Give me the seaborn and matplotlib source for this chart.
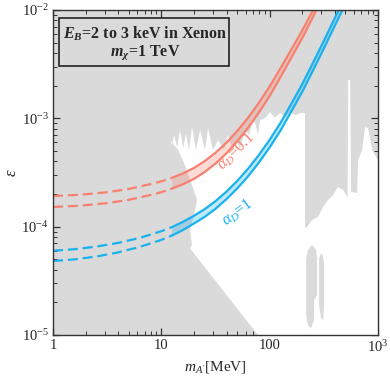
import numpy as np
import pandas as pd
import matplotlib
matplotlib.use("Agg")
import matplotlib.pyplot as plt
from matplotlib.patches import Rectangle
import seaborn as sns

# --- curve readings (m_A' in MeV, epsilon) ---
red_up_m = [1, 1.78, 3.16, 5.01, 7.94, 10, 12.6, 15.8, 20, 25.1, 31.6, 39.8, 50.1,
            63.1, 79.4, 100, 126, 158, 200, 251, 253]
red_up_e = [1.92e-4, 1.97e-4, 2.08e-4, 2.23e-4, 2.47e-4, 2.62e-4, 2.83e-4, 3.10e-4,
            3.48e-4, 4.02e-4, 4.81e-4, 5.94e-4, 7.62e-4, 1.01e-3, 1.39e-3, 1.97e-3,
            2.90e-3, 4.29e-3, 6.49e-3, 9.93e-3, 1.0e-2]
red_lo_m = [1, 1.78, 3.16, 5.01, 7.94, 10, 12.6, 15.8, 20, 25.1, 31.6, 39.8, 50.1,
            63.1, 79.4, 100, 126, 158, 200, 251, 270]
red_lo_e = [1.52e-4, 1.56e-4, 1.65e-4, 1.77e-4, 1.96e-4, 2.08e-4, 2.25e-4, 2.46e-4,
            2.76e-4, 3.19e-4, 3.82e-4, 4.74e-4, 6.13e-4, 8.16e-4, 1.13e-3, 1.61e-3,
            2.41e-3, 3.61e-3, 5.52e-3, 8.6e-3, 1.0e-2]
blue_up_m = [1, 1.58, 2.51, 3.98, 6.31, 10, 12.6, 15.8, 20, 25.1, 31.6, 39.8, 50.1,
             63.1, 79.4, 100, 126, 158, 200, 251, 316, 398, 434]
blue_up_e = [6.0e-5, 6.19e-5, 6.55e-5, 7.08e-5, 7.87e-5, 9.08e-5, 9.93e-5, 1.107e-4,
             1.26e-4, 1.45e-4, 1.72e-4, 2.10e-4, 2.64e-4, 3.42e-4, 4.58e-4, 6.34e-4,
             9.08e-4, 1.355e-3, 2.07e-3, 3.25e-3, 5.18e-3, 8.36e-3, 1.0e-2]
blue_lo_m = [1, 1.58, 2.51, 3.98, 6.31, 10, 12.6, 15.8, 20, 25.1, 31.6, 39.8, 50.1,
             63.1, 79.4, 100, 126, 158, 200, 251, 316, 398, 470]
blue_lo_e = [4.82e-5, 4.99e-5, 5.30e-5, 5.78e-5, 6.50e-5, 7.55e-5, 8.3e-5, 9.3e-5,
             1.07e-4, 1.23e-4, 1.46e-4, 1.79e-4, 2.25e-4, 2.91e-4, 3.90e-4, 5.40e-4,
             7.73e-4, 1.153e-3, 1.76e-3, 2.77e-3, 4.41e-3, 7.11e-3, 1.0e-2]
m_split = 12.6

# --- allowed (white) region outline ---
white_m = [78, 1000, 1000, 883, 811, 760, 713, 655, 641, 565, 552, 530, 524, 476,
           428, 385, 346, 311, 280, 246, 221, 212, 212, 191, 172, 154, 139, 125,
           112, 101, 90.7, 81.5, 78, 73.3, 68.8, 64.5, 59.3, 53.3, 49, 45, 41.3,
           37.9, 33.4, 30, 27, 25.3, 22.8, 20.9, 19.2, 18.0, 16.9, 15.9, 14.9,
           14.0, 13.1, 12.6, 12.0, 14.3, 16.5, 19.2, 21.4, 20.0, 18.4, 19.2, 18.4]
white_e = [1e-5, 1e-5, 4.1e-4, 5.1e-4, 8.1e-4, 8.3e-4, 5.1e-4, 4.1e-4, 2.04e-4,
           2.1e-4, 2.26e-3, 2.26e-3, 1.87e-4, 2.18e-4, 2.32e-4, 1.96e-4, 1.76e-4,
           1.52e-4, 1.23e-4, 1.15e-4, 9.9e-5, 9.7e-5, 1.12e-3, 1.12e-3, 1.07e-3,
           1.14e-3, 1.03e-3, 1.12e-3, 1.01e-3, 1.14e-3, 1.01e-3, 9.6e-4, 7.0e-4,
           9.2e-4, 9.0e-4, 7.0e-4, 7.8e-4, 5.3e-4, 6.3e-4, 5.1e-4, 7.0e-4, 5.1e-4,
           6.3e-4, 5.1e-4, 8.1e-4, 5.1e-4, 7.8e-4, 5.1e-4, 8.3e-4, 5.1e-4, 7.3e-4,
           5.3e-4, 7.8e-4, 5.4e-4, 7.0e-4, 5.7e-4, 6.3e-4, 5.1e-4, 3.7e-4, 2.42e-4,
           1.76e-4, 1.28e-4, 9.3e-5, 6.8e-5, 6.3e-5]

# excluded islands inside the allowed region
blob1_m = [226, 246, 268, 274, 274, 257, 257, 241, 226, 217, 217]
blob1_e = [6.1e-5, 6.8e-5, 6.1e-5, 5.1e-5, 2.33e-5, 2.1e-5, 1.37e-5, 1.16e-5,
           1.23e-5, 1.53e-5, 5.1e-5]
blob2_m = [286, 298, 311, 318, 318, 311, 298, 286]
blob2_e = [5.1e-5, 5.7e-5, 5.36e-5, 4.4e-5, 1.89e-5, 1.37e-5, 1.43e-5, 1.89e-5]

red = "#f8806f"
blue = "#19b2ef"
gray = "#dadada"

sns.set_theme(style="ticks")
plt.rcParams["font.family"] = ["Liberation Serif", "DejaVu Serif"]
plt.rcParams["mathtext.fontset"] = "custom"
plt.rcParams["mathtext.rm"] = "Liberation Serif"
plt.rcParams["mathtext.it"] = "Liberation Serif:italic"
plt.rcParams["mathtext.bf"] = "Liberation Serif:bold:italic"
plt.rcParams["mathtext.fallback"] = "stix"

fig = plt.figure(figsize=(3.9, 3.81), dpi=100)
ax = fig.add_axes([53 / 390, 1 - 335 / 381, 325 / 390, 325 / 381])
ax.set_xscale("log")
ax.set_yscale("log")
ax.set_xlim(1, 1000)
ax.set_ylim(1e-5, 1e-2)

# excluded region = background, allowed region drawn on top
ax.set_facecolor(gray)
ax.fill(white_m, white_e, color="white", lw=0, zorder=1)
ax.fill(blob1_m, blob1_e, color=gray, lw=0, zorder=1.5)
ax.fill(blob2_m, blob2_e, color=gray, lw=0, zorder=1.5)


def band(up_m, up_e, lo_m, lo_e, color):
    up = pd.DataFrame({"m": up_m, "e": up_e})
    lo = pd.DataFrame({"m": lo_m, "e": lo_e})
    for d in (up, lo):
        sns.lineplot(data=d[d.m <= m_split], x="m", y="e", color=color, lw=1.6,
                     linestyle=(0, (4.5, 2.2)), ax=ax, sort=False, estimator=None, zorder=3)
        sns.lineplot(data=d[d.m >= m_split], x="m", y="e", color=color, lw=1.6,
                     ax=ax, sort=False, estimator=None, zorder=3)
    us = up[up.m >= m_split]
    ls = lo[lo.m >= m_split]
    poly_m = list(us.m) + list(ls.m[::-1])
    poly_e = list(us.e) + list(ls.e[::-1])
    ax.fill(poly_m, poly_e, color=color, alpha=0.28, lw=0, zorder=2)


band(red_up_m, red_up_e, red_lo_m, red_lo_e, red)
band(blue_up_m, blue_up_e, blue_lo_m, blue_lo_e, blue)

ax.text(49, 5.0e-4, r"$\alpha_D$=0.1", color=red, fontsize=11.5, rotation=45,
        ha="center", va="center", zorder=4)
ax.text(51, 1.36e-4, r"$\alpha_D$=1", color=blue, fontsize=11.5, rotation=37,
        ha="center", va="center", zorder=4)

ax.add_patch(Rectangle((0.018, 0.828), 0.523, 0.148, transform=ax.transAxes,
                       facecolor="none", edgecolor="#222222", lw=1.2, zorder=5))
ax.text(0.283, 0.928, r"$\mathbf{E_B}$=2 to 3 keV in Xenon", transform=ax.transAxes,
        ha="center", va="center", fontsize=11.5, fontweight="bold", zorder=6)
ax.text(0.283, 0.868, r"$\mathbf{m_\chi}$=1 TeV", transform=ax.transAxes,
        ha="center", va="center", fontsize=11.5, fontweight="bold", zorder=6)

ax.set_xticks([1, 10, 100, 1000])
ax.set_xticklabels(["1", "10", "100", r"$10^3$"])
ax.set_yticks([1e-5, 1e-4, 1e-3, 1e-2])
ax.set_yticklabels([r"$10^{-5}$", r"$10^{-4}$", r"$10^{-3}$", r"$10^{-2}$"])
ax.tick_params(which="both", direction="in", top=True, right=True,
               color="#333333", labelsize=10.5, pad=3)
ax.tick_params(which="major", length=5, width=0.9)
ax.tick_params(which="minor", length=3, width=0.7)
for s in ax.spines.values():
    s.set_color("#333333")
    s.set_linewidth(1.0)
    s.set_zorder(7)

ax.set_xlabel(r"$m_{A'}$[MeV]", fontsize=11, labelpad=3)
ax.set_ylabel(r"$\epsilon$", fontsize=12, labelpad=1)

fig.savefig("out.png", dpi=100)
